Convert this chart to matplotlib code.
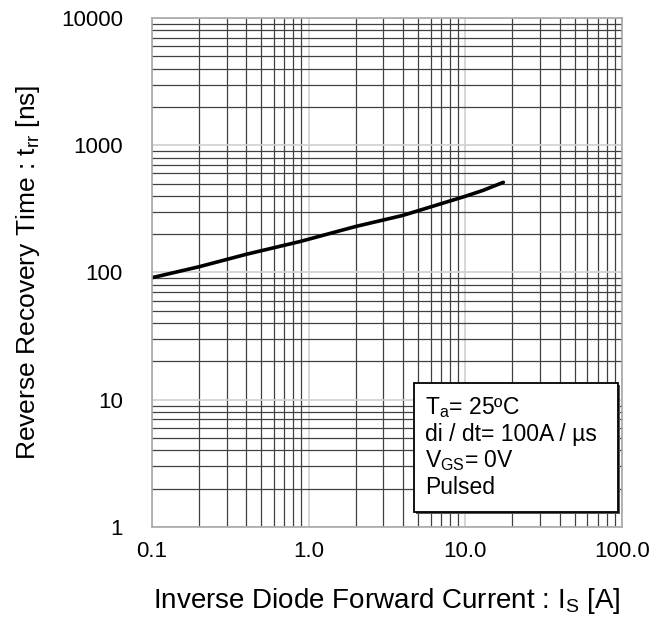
import numpy as np
import matplotlib
matplotlib.use("Agg")
from matplotlib import pyplot as plt
from matplotlib.patches import Rectangle
from matplotlib.ticker import FixedLocator, NullFormatter

plt.rcParams['font.family'] = ['Liberation Sans', 'DejaVu Sans']
plt.rcParams['mathtext.fontset'] = 'custom'
plt.rcParams['mathtext.rm'] = 'Liberation Sans'
plt.rcParams['mathtext.it'] = 'Liberation Sans'

# Reverse recovery time vs inverse diode forward current
current_a = [0.1, 0.2, 0.4, 0.88, 2.0, 4.0, 10.0, 13.0, 17.5]
trr_ns = [91, 111, 139, 175, 230, 281, 397, 442, 511]

x_ticks = [0.1, 1, 10, 100]
x_labels = ["0.1", "1.0", "10.0", "100.0"]
y_ticks = [1, 10, 100, 1000, 10000]
y_labels = ["1", "10", "100", "1000", "10000"]

cond_lines = [r"T$_{\mathrm{a}}$= 25ºC",
              "di / dt= 100A / µs",
              r"V$_{\mathrm{GS}}$= 0V",
              "Pulsed"]

fig = plt.figure(figsize=(6.68, 6.2), dpi=100)
ax = fig.add_axes([0.2275, 0.15, 0.7035, 0.821])
ax.set_xscale("log")
ax.set_yscale("log")

# grid: decade lines light, sub-decade lines dark
minor_x = [m * d for d in [0.1, 1, 10] for m in range(2, 10)]
minor_y = [m * d for d in [1, 10, 100, 1000] for m in range(2, 10)]
ax.set_xticks(x_ticks, x_labels, fontsize=16)
ax.set_yticks(y_ticks, y_labels, fontsize=16)
ax.xaxis.set_minor_locator(FixedLocator(minor_x))
ax.yaxis.set_minor_locator(FixedLocator(minor_y))
ax.xaxis.set_minor_formatter(NullFormatter())
ax.yaxis.set_minor_formatter(NullFormatter())
ax.set_xlim(0.1, 100)
ax.set_ylim(1, 10000)
ax.grid(which="major", color="#cfcfcf", linewidth=1.2)
ax.grid(which="minor", color="#404040", linewidth=0.9)
ax.set_axisbelow(True)
ax.tick_params(which="both", length=0)
ax.tick_params(axis="y", pad=21)
ax.tick_params(axis="x", pad=10)
for s in ax.spines.values():
    s.set_color("#a8a8a8")
    s.set_linewidth(1.2)

ax.plot(current_a, trr_ns, color="black", linewidth=2.6, solid_capstyle="round")

ax.set_xlabel(r"Inverse Diode Forward Current : I$_{\mathrm{S}}$ [A]", fontsize=20)
ax.set_ylabel(r"Reverse Recovery Time : t$_{\mathrm{rr}}$ [ns]", fontsize=19)
ax.xaxis.set_label_coords(0.5, -0.116)
ax.yaxis.set_label_coords(-0.235, 0.5)

# condition box
ax.add_patch(Rectangle((0.561, 0.025), 0.434, 0.254, transform=ax.transAxes,
                       facecolor="#555555", edgecolor="none", zorder=4))
ax.add_patch(Rectangle((0.557, 0.029), 0.434, 0.254, transform=ax.transAxes,
                       facecolor="white", edgecolor="black", linewidth=1.3, zorder=5))
for i, t in enumerate(cond_lines):
    ax.text(0.581, 0.234 - i * 0.052, t, transform=ax.transAxes, fontsize=16.5,
            va="center", ha="left", zorder=6)

fig.savefig("out.png", dpi=100)
